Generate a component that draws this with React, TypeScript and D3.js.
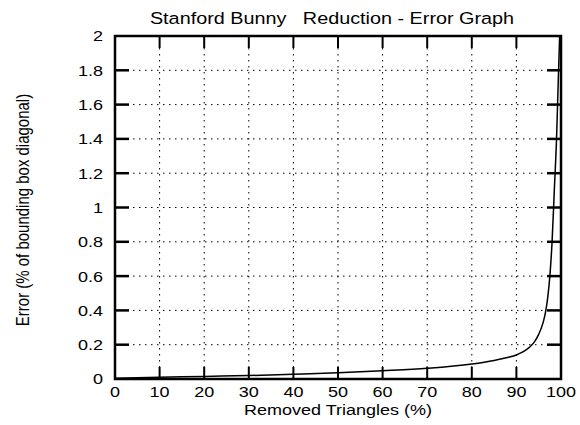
import React from "react";
import * as d3 from "d3";

const xTicks = [0, 10, 20, 30, 40, 50, 60, 70, 80, 90, 100];
const yTicks = [0, 0.2, 0.4, 0.6, 0.8, 1, 1.2, 1.4, 1.6, 1.8, 2];
const yTickLabels = ["0", "0.2", "0.4", "0.6", "0.8", "1", "1.2", "1.4", "1.6", "1.8", "2"];
const removed = [0, 10, 20, 30, 40, 50, 60, 70, 80, 85, 88, 90, 91, 92, 93, 94, 95, 96, 96.5, 97, 97.5, 98, 98.5, 99, 99.4, 99.7];
const errorVals = [0.005, 0.01, 0.015, 0.02, 0.028, 0.037, 0.048, 0.062, 0.087, 0.108, 0.125, 0.14, 0.152, 0.167, 0.187, 0.215, 0.26, 0.33, 0.385, 0.47, 0.6, 0.8, 1.1, 1.4, 1.75, 2.0];

const W = 580, H = 425;
const M = { left: 115, right: 561, top: 36, bottom: 379 };
const SX = 1.2;

export default function App() {
  const x = d3.scaleLinear().domain([0, 100]).range([M.left, M.right]);
  const y = d3.scaleLinear().domain([0, 2]).range([M.bottom, M.top]);
  const line = d3.line<number>()
    .x((_, i) => x(removed[i]))
    .y((d) => y(d))
    .curve(d3.curveMonotoneX);
  const font = "'Liberation Sans', Arial, Helvetica, sans-serif";
  const T = (px: number, py: number) => `translate(${px},${py}) scale(${SX},1)`;
  return (
    <svg width={W} height={H} style={{ position: "absolute", left: 0, top: 0, background: "#fff" }} fontFamily={font}>
      <rect width={W} height={H} fill="#fff" />
      {xTicks.slice(1, -1).map((t) => (
        <line key={"gx" + t} x1={x(t)} x2={x(t)} y1={M.top} y2={M.bottom} stroke="#000" strokeWidth={1} strokeDasharray="1.5,4.5" />
      ))}
      {yTicks.slice(1, -1).map((t) => (
        <line key={"gy" + t} x1={M.left} x2={M.right} y1={y(t)} y2={y(t)} stroke="#000" strokeWidth={1} strokeDasharray="1.5,4.5" />
      ))}
      {xTicks.slice(1, -1).map((t) => (
        <g key={"tx" + t}>
          <line x1={x(t)} x2={x(t)} y1={M.bottom} y2={M.bottom - 12} stroke="#000" strokeWidth={2} />
          <line x1={x(t)} x2={x(t)} y1={M.top} y2={M.top + 12} stroke="#000" strokeWidth={2} />
        </g>
      ))}
      {yTicks.slice(1, -1).map((t) => (
        <g key={"ty" + t}>
          <line x1={M.left} x2={M.left + 14} y1={y(t)} y2={y(t)} stroke="#000" strokeWidth={2.5} />
          <line x1={M.right} x2={M.right - 14} y1={y(t)} y2={y(t)} stroke="#000" strokeWidth={2.5} />
        </g>
      ))}
      <path d={line(errorVals) || ""} fill="none" stroke="#000" strokeWidth={1.5} />
      <rect x={M.left} y={M.top} width={M.right - M.left} height={M.bottom - M.top} fill="none" stroke="#000" strokeWidth={2.5} />
      {yTicks.map((t, i) => (
        <text key={"ly" + t} transform={T(103, y(t) + 5.4)} textAnchor="end" fontSize={15}>{yTickLabels[i]}</text>
      ))}
      {xTicks.map((t) => (
        <text key={"lx" + t} transform={T(x(t), 397)} textAnchor="middle" fontSize={15}>{t}</text>
      ))}
      <text transform={T(338, 415)} textAnchor="middle" fontSize={15}>Removed Triangles (%)</text>
      <text transform={T(332, 24)} textAnchor="middle" fontSize={16.5} style={{ whiteSpace: "pre" }}>{"Stanford Bunny   Reduction - Error Graph"}</text>
      <text transform={`translate(29,210) scale(${SX},1) rotate(-90)`} textAnchor="middle" fontSize={15}>Error (% of bounding box diagonal)</text>
    </svg>
  );
}
